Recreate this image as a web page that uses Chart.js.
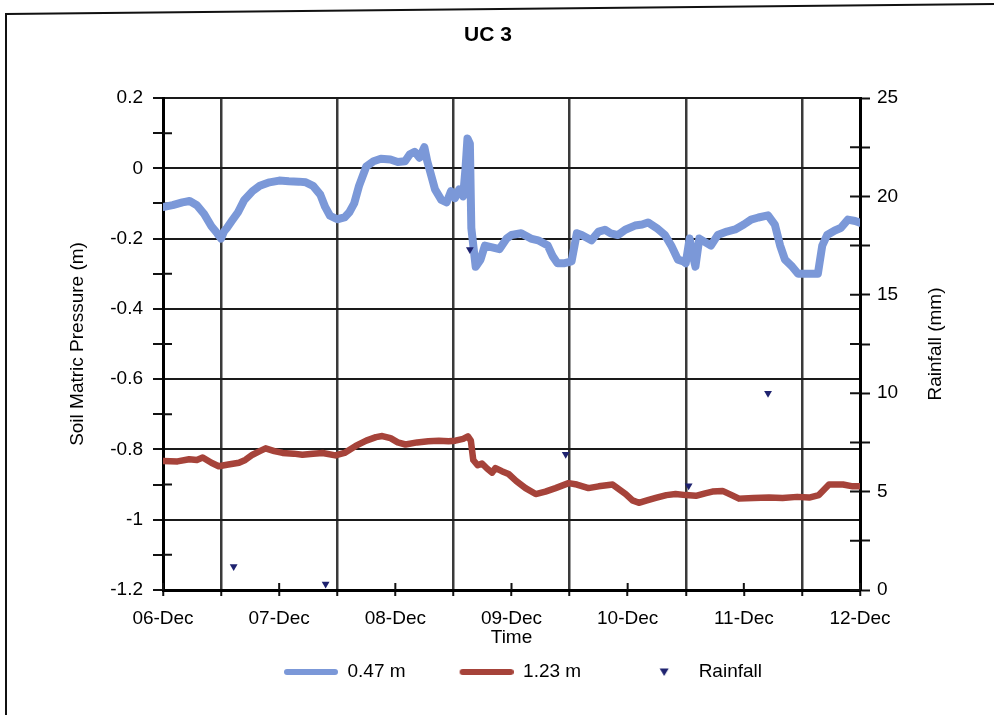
<!DOCTYPE html>
<html>
<head>
<meta charset="utf-8">
<title>UC 3</title>
<script src="https://cdn.jsdelivr.net/npm/chart.js@4.4.1/dist/chart.umd.min.js"></script>
<style>
  html, body { margin: 0; padding: 0; background: #fff; }
  canvas { display: block; }
</style>
</head>
<body>
<canvas id="chart" width="994" height="715"></canvas>
<script>
// Time axis: hours since 06-Dec 00:00, one label per day
const dayLabels = ['06-Dec', '07-Dec', '08-Dec', '09-Dec', '10-Dec', '11-Dec', '12-Dec'];
const dayHours = [0, 24, 48, 72, 96, 120, 144];

// Soil matric pressure at 0.47 m depth (m)
const hoursShallow = [0, 2, 4, 5.5, 7, 8.5, 10, 11.2, 12, 12.6, 13.2, 14.2, 15.5, 16.8, 18.5, 20, 22, 24, 26, 28,
  29.5, 31, 32.5, 33.5, 34.5, 36, 37.5, 38.5, 39.5, 40.5, 42, 43.5, 45, 47, 48.5, 50, 51, 52, 53, 54,
  54.6, 55.2, 56.2, 57.5, 58.6, 59.5, 60.3, 61.2, 62, 62.5, 62.9, 63.4, 63.7, 64.6, 65.6, 66.5, 68, 69.5, 71, 72,
  74, 76, 77.5, 79.5, 80.5, 81.5, 83, 84.4, 85.5, 86.5, 88.5, 90, 91.3, 92.5, 94, 95.5, 97.5, 99, 100.2, 102,
  103.7, 105, 106.4, 107.5, 108, 108.8, 109.5, 110, 110.8, 112, 113.2, 114.6, 116.5, 118.2, 120, 121.5, 123, 125, 126.4, 127.5,
  128.5, 130, 131.2, 133, 135.3, 136.2, 137.2, 138.8, 140, 141.5, 143, 144];
const pressureShallow = [-0.11, -0.105, -0.097, -0.093, -0.105, -0.13, -0.165, -0.185, -0.2, -0.18, -0.17, -0.15, -0.125, -0.09, -0.065, -0.05, -0.04, -0.035, -0.037, -0.038,
  -0.04, -0.05, -0.075, -0.11, -0.135, -0.145, -0.14, -0.125, -0.1, -0.05, 0.005, 0.02, 0.027, 0.025, 0.018, 0.02, 0.04, 0.047, 0.03, 0.06,
  0.02, -0.01, -0.06, -0.09, -0.097, -0.065, -0.085, -0.06, -0.08, 0.0, 0.085, 0.07, -0.17, -0.28, -0.26, -0.22, -0.225, -0.23, -0.2, -0.19,
  -0.185, -0.2, -0.205, -0.22, -0.25, -0.27, -0.27, -0.265, -0.185, -0.19, -0.205, -0.18, -0.175, -0.185, -0.19, -0.175, -0.163, -0.16, -0.154, -0.17,
  -0.19, -0.22, -0.26, -0.265, -0.27, -0.2, -0.25, -0.28, -0.2, -0.21, -0.22, -0.19, -0.18, -0.174, -0.16, -0.146, -0.14, -0.134, -0.16, -0.22,
  -0.26, -0.28, -0.3, -0.3, -0.3, -0.22, -0.19, -0.177, -0.17, -0.146, -0.15, -0.155];

// Soil matric pressure at 1.23 m depth (m)
const hoursDeep = [0, 3, 5.4, 7, 8.2, 10, 11.5, 13.5, 15.7, 17, 18.5, 20, 21.2, 23, 24.7, 27, 28.8, 31, 33, 35.6,
  37.5, 39.8, 42, 44, 45.3, 47, 48.5, 50.1, 52.5, 54.8, 57, 59, 60.4, 62, 63, 63.6, 64.1, 65, 65.9, 67,
  68, 68.7, 70, 71.4, 73, 74.9, 77, 79, 81.1, 83.8, 85.5, 87.9, 90, 92.9, 95.6, 97, 98.3, 100, 101.8, 104,
  105.9, 108, 110.1, 112, 113.5, 115.6, 117.5, 119, 122, 125.2, 128, 131, 133.5, 135.5, 137.6, 140.5, 142.5, 144];
const pressureDeep = [-0.833, -0.834, -0.828, -0.83, -0.823, -0.838, -0.848, -0.843, -0.838, -0.83, -0.815, -0.805, -0.797, -0.805, -0.81, -0.812, -0.815, -0.812, -0.81, -0.817,
  -0.81, -0.79, -0.775, -0.765, -0.762, -0.768, -0.78, -0.786, -0.78, -0.777, -0.775, -0.777, -0.775, -0.77, -0.763, -0.775, -0.83, -0.845, -0.84, -0.855,
  -0.866, -0.853, -0.862, -0.87, -0.89, -0.91, -0.927, -0.92, -0.91, -0.896, -0.9, -0.91, -0.905, -0.9, -0.927, -0.945, -0.952, -0.945, -0.938, -0.93,
  -0.927, -0.93, -0.932, -0.925, -0.92, -0.918, -0.93, -0.94, -0.938, -0.937, -0.938, -0.935, -0.937, -0.93, -0.9, -0.9, -0.905, -0.905];

// Rainfall events (mm)
const rainHours = [14.6, 33.6, 63.4, 83.2, 108.6, 125];
const rainMm = [1.2, 0.3, 17.3, 6.9, 5.3, 10.0];

// Labelled axis values
const pressureTicks = [-1.2, -1, -0.8, -0.6, -0.4, -0.2, 0, 0.2];
const rainTicks = [0, 5, 10, 15, 20, 25];

// Minor ticks sit half way between labelled ones
function withMidpoints(list) {
  const out = [];
  list.forEach((v, i) => {
    out.push(v);
    if (i < list.length - 1) out.push(+((v + list[i + 1]) / 2).toFixed(3));
  });
  return out;
}
const pressureTickValues = withMidpoints(pressureTicks);
const rainTickValues = withMidpoints(rainTicks);
const timeTickValues = withMidpoints(dayHours);

const toPoints = (xs, ys) => xs.map((x, i) => ({ x: x, y: ys[i] }));

Chart.defaults.font.family = 'Arial, "Liberation Sans", sans-serif';
Chart.defaults.color = '#000';

const shallowColor = '#7b98d8';
const deepColor = '#a6433a';
const rainColor = '#1f2370';

// Legend markers: a short rounded stroke for the sensor lines, a small
// downward triangle for rainfall; both sit at the right of a wider box.
const MARKER_W = 77;
function lineMarker(color) {
  const cv = document.createElement('canvas');
  cv.width = MARKER_W; cv.height = 10;
  const c = cv.getContext('2d');
  c.strokeStyle = color;
  c.lineWidth = 6;
  c.lineCap = 'round';
  c.beginPath();
  c.moveTo(MARKER_W - 51, 5);
  c.lineTo(MARKER_W - 3, 5);
  c.stroke();
  return cv;
}
function triangleMarker(color) {
  const cv = document.createElement('canvas');
  cv.width = MARKER_W; cv.height = 10;
  const c = cv.getContext('2d');
  const cx = MARKER_W - 25;
  c.fillStyle = color;
  c.beginPath();
  c.moveTo(cx - 4.5, 1.5); c.lineTo(cx + 4.5, 1.5); c.lineTo(cx, 9); c.closePath();
  c.fill();
  return cv;
}

// Extra axis furniture: page frame, inward halves of tick crosses, right axis title
const axisDecor = {
  id: 'axisDecor',
  beforeDraw(chart) {
    const ctx = chart.ctx;
    ctx.save();
    ctx.strokeStyle = '#111';
    ctx.lineWidth = 2;
    ctx.beginPath();
    ctx.moveTo(6, 715);
    ctx.lineTo(6, 14);
    ctx.lineTo(994, 4);
    ctx.stroke();
    ctx.restore();
  },
  beforeDatasetsDraw(chart) {
    const { ctx, scales } = chart;
    const x = scales.x, y = scales.y, y1 = scales.y1;
    ctx.save();
    ctx.strokeStyle = '#111';
    ctx.lineWidth = 2;
    ctx.beginPath();
    x.ticks.forEach(t => {
      if (dayHours.includes(t.value)) {
        const px = x.getPixelForValue(t.value);
        ctx.moveTo(px, x.top);
        ctx.lineTo(px, x.top - 7);
      }
    });
    y.ticks.forEach(t => {
      if (!pressureTicks.includes(t.value)) {
        const py = y.getPixelForValue(t.value);
        ctx.moveTo(y.right, py);
        ctx.lineTo(y.right + 9, py);
      }
    });
    y1.ticks.forEach(t => {
      const py = y1.getPixelForValue(t.value);
      ctx.moveTo(y1.left, py);
      ctx.lineTo(y1.left - 10, py);
    });
    ctx.stroke();
    ctx.restore();
  },
  afterDraw(chart) {
    const { ctx, scales, chartArea } = chart;
    ctx.save();
    ctx.translate(scales.y1.left + 76, (chartArea.top + chartArea.bottom) / 2);
    ctx.rotate(-Math.PI / 2);
    ctx.font = '19px Arial, "Liberation Sans", sans-serif';
    ctx.fillStyle = '#000';
    ctx.textAlign = 'center';
    ctx.textBaseline = 'middle';
    ctx.fillText('Rainfall (mm)', 0, 0);
    ctx.restore();
  }
};

new Chart(document.getElementById('chart'), {
  type: 'line',
  data: {
    datasets: [
      {
        label: '0.47 m',
        data: toPoints(hoursShallow, pressureShallow),
        yAxisID: 'y',
        borderColor: shallowColor,
        borderWidth: 8,
        borderJoinStyle: 'round',
        borderCapStyle: 'round',
        pointRadius: 0,
        tension: 0,
        order: 1
      },
      {
        label: '1.23 m',
        data: toPoints(hoursDeep, pressureDeep),
        yAxisID: 'y',
        borderColor: deepColor,
        borderWidth: 6.5,
        borderJoinStyle: 'round',
        borderCapStyle: 'round',
        pointRadius: 0,
        tension: 0,
        order: 2
      },
      {
        label: 'Rainfall',
        data: toPoints(rainHours, rainMm),
        yAxisID: 'y1',
        showLine: false,
        pointStyle: 'triangle',
        rotation: 180,
        pointRadius: 4.5,
        pointBorderWidth: 0,
        backgroundColor: rainColor,
        borderColor: rainColor,
        order: 0
      }
    ]
  },
  options: {
    responsive: false,
    animation: false,
    devicePixelRatio: 1,
    layout: { padding: { left: 0, right: 18, top: 0, bottom: 23.5 } },
    plugins: {
      tooltip: { enabled: false },
      title: {
        display: true,
        text: 'UC 3',
        color: '#000',
        font: { size: 21, weight: 'bold' },
        padding: { top: 23, bottom: 49.8 }
      },
      legend: {
        position: 'bottom',
        fullSize: false,
        labels: {
          usePointStyle: true,
          pointStyleWidth: MARKER_W,
          boxHeight: 6,
          padding: 31,
          color: '#000',
          font: { size: 19 },
          generateLabels(chart) {
            return chart.data.datasets.map((ds, i) => ({
              text: ds.label,
              datasetIndex: i,
              fillStyle: ds.borderColor,
              strokeStyle: ds.borderColor,
              lineWidth: 0,
              pointStyle: ds.showLine === false ? triangleMarker(ds.backgroundColor) : lineMarker(ds.borderColor),
              rotation: 0,
              hidden: false
            }));
          }
        }
      }
    },
    scales: {
      x: {
        type: 'linear',
        min: 0,
        max: 144,
        afterBuildTicks: s => { s.ticks = timeTickValues.map(v => ({ value: v })); },
        afterFit: s => { s.height = 41.5; },
        ticks: {
          autoSkip: false,
          maxRotation: 0,
          padding: 11.6,
          font: { size: 19 },
          color: '#000',
          callback: v => { const i = dayHours.indexOf(v); return i >= 0 ? dayLabels[i] : ''; }
        },
        grid: {
          color: c => (c.tick && c.tick.value % 24 === 12) ? '#3a3a3a' : 'rgba(0,0,0,0)',
          lineWidth: 2.5,
          tickLength: 6,
          tickColor: '#111',
          tickWidth: 2
        },
        border: { color: '#000', width: 3 },
        title: { display: true, text: 'Time', color: '#000', font: { size: 19 }, padding: { top: 0, bottom: -17.9 } }
      },
      y: {
        position: 'left',
        min: -1.2,
        max: 0.2,
        afterBuildTicks: s => { s.ticks = pressureTickValues.map(v => ({ value: v })); },
        afterFit: s => { s.width = 163; },
        ticks: {
          autoSkip: false,
          padding: 10,
          font: { size: 19 },
          color: '#000',
          callback: v => pressureTicks.includes(v) ? String(v) : ''
        },
        grid: {
          color: c => (c.tick && pressureTicks.includes(c.tick.value)) ? '#1a1a1a' : 'rgba(0,0,0,0)',
          lineWidth: 2,
          tickLength: 10,
          tickColor: '#111',
          tickWidth: 2
        },
        border: { color: '#000', width: 3 },
        title: { display: true, text: 'Soil Matric Pressure (m)', color: '#000', font: { size: 19 }, padding: { top: 66, bottom: 0 } }
      },
      y1: {
        position: 'right',
        min: 0,
        max: 25,
        afterBuildTicks: s => { s.ticks = rainTickValues.map(v => ({ value: v })); },
        afterFit: s => { s.width = 116; },
        ticks: {
          autoSkip: false,
          padding: 7,
          font: { size: 19 },
          color: '#000',
          callback: v => rainTicks.includes(v) ? String(v) : ''
        },
        grid: {
          drawOnChartArea: false,
          tickLength: 10,
          tickColor: '#111',
          tickWidth: 2
        },
        border: { color: '#000', width: 3 }
      }
    }
  },
  plugins: [axisDecor]
});
</script>
</body>
</html>
